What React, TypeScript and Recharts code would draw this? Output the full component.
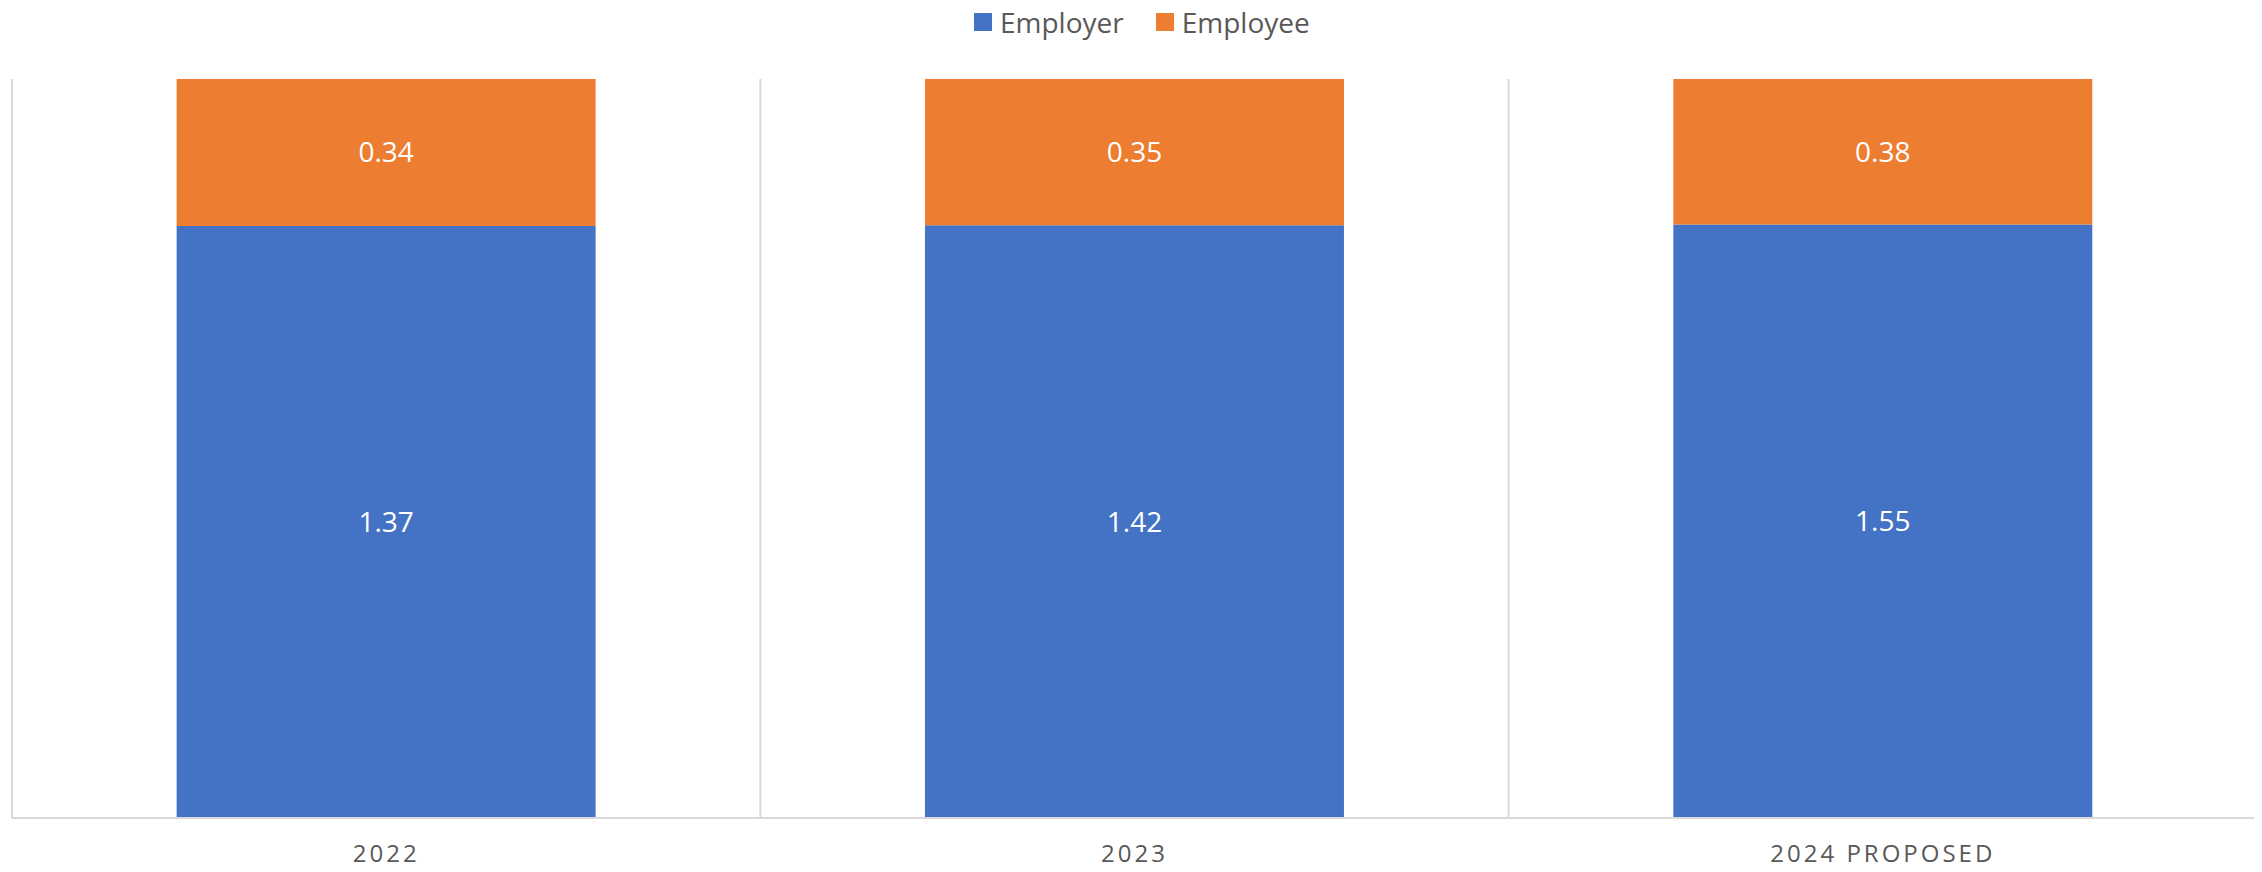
import { Bar, BarChart, CartesianGrid, LabelList, XAxis, YAxis } from "recharts";

const years = ["2022", "2023", "2024 PROPOSED"];
const employer = [1.37, 1.42, 1.55];
const employee = [0.34, 0.35, 0.38];

const data = years.map((year, i) => ({ year, employer: employer[i], employee: employee[i] }));

const BLUE = "#4472c4";
const ORANGE = "#ed7d31";
const FONT = "'Open Sans', sans-serif";

const fmt = (v: unknown) => Number(v).toFixed(2);

function LegendRow() {
  const item = (color: string, label: string) => (
    <span style={{ display: "inline-flex", alignItems: "center", marginRight: 32 }}>
      <span style={{ width: 18, height: 18, background: color, marginRight: 8 }} />
      <span style={{ fontSize: 28, color: "#595959" }}>{label}</span>
    </span>
  );
  return (
    <div
      style={{
        position: "absolute",
        top: 0,
        left: 974,
        height: 44,
        display: "flex",
        alignItems: "center",
        fontFamily: FONT,
        whiteSpace: "nowrap",
      }}
    >
      {item(BLUE, "Employer")}
      {item(ORANGE, "Employee")}
    </div>
  );
}

export default function App() {
  return (
    <div style={{ position: "relative", width: 2262, height: 872, margin: -8, background: "#fff" }}>
      <LegendRow />
      <BarChart
        width={2262}
        height={872}
        data={data}
        stackOffset="expand"
        barCategoryGap="22%"
        margin={{ top: 79, right: 5, bottom: 0, left: 12 }}
        style={{ fontFamily: FONT }}
      >
        <CartesianGrid stroke="#d9d9d9" strokeWidth={2} horizontal={false} verticalCoordinatesGenerator={({ offset }) => {
          const x0 = offset.left ?? 0;
          const w = offset.width ?? 0;
          return years.map((_, i) => x0 + (w * i) / years.length).concat([x0 + w]);
        }} />
        <XAxis
          dataKey="year"
          height={54}
          tickLine={false}
          axisLine={{ stroke: "#d9d9d9", strokeWidth: 2 }}
          tick={{ fontSize: 24, fill: "#595959", letterSpacing: 3 }}
          tickMargin={21}
          interval={0}
        />
        <YAxis hide domain={[0, 1]} />
        <Bar dataKey="employer" stackId="a" fill={BLUE} isAnimationActive={false}>
          <LabelList dataKey="employer" position="center" fill="#fff" fontSize={28} formatter={fmt} />
        </Bar>
        <Bar dataKey="employee" stackId="a" fill={ORANGE} isAnimationActive={false}>
          <LabelList dataKey="employee" position="center" fill="#fff" fontSize={28} formatter={fmt} />
        </Bar>
      </BarChart>
    </div>
  );
}
